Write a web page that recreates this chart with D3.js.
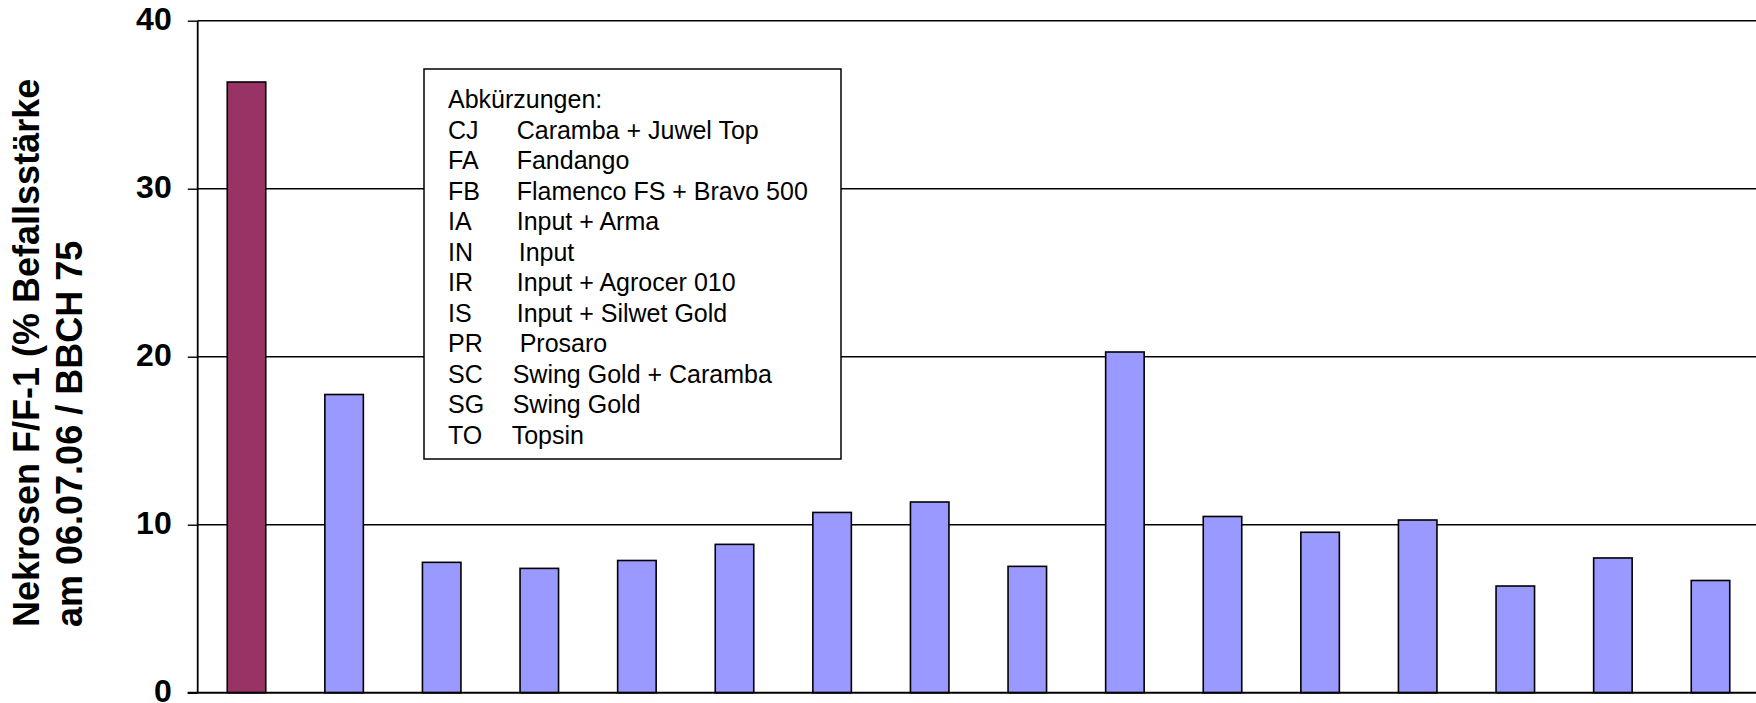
<!DOCTYPE html>
<html>
<head>
<meta charset="utf-8">
<script src="https://cdn.jsdelivr.net/npm/d3@7"></script>
<style>
  html, body { margin: 0; padding: 0; background: #fff; overflow: hidden; }
  svg { display: block; }
</style>
</head>
<body>
<svg id="chart" width="1756" height="703"></svg>
<script>
// ---- data ----
const categories = ["1","2","3","4","5","6","7","8","9","10","11","12","13","14","15","16"];
const values = [36.35, 17.75, 7.76, 7.40, 7.87, 8.83, 10.73, 11.35, 7.52, 20.28, 10.49, 9.55, 10.28, 6.35, 8.02, 6.68];
const barColors = ["#993366","#9999FF","#9999FF","#9999FF","#9999FF","#9999FF","#9999FF","#9999FF","#9999FF","#9999FF","#9999FF","#9999FF","#9999FF","#9999FF","#9999FF","#9999FF"];
const yTicks = [0, 10, 20, 30, 40];
const yTitleLines = ["Nekrosen F/F-1 (% Befallsstärke", "am 06.07.06 / BBCH 75"];
const legendTitle = "Abkürzungen:";
const legendAbbr = ["CJ","FA","FB","IA","IN","IR","IS","PR","SC","SG","TO"];
const legendDesc = ["Caramba + Juwel Top","Fandango","Flamenco FS + Bravo 500","Input + Arma","Input","Input + Agrocer 010","Input + Silwet Gold","Prosaro","Swing Gold + Caramba","Swing Gold","Topsin"];

// ---- layout ----
const svg = d3.select("#chart");
const plotLeft = 197.7, plotRight = 1759.3, plotTop = 20.7, plotBottom = 692.7;
const font = "Arial, 'Liberation Sans', sans-serif";

const y = d3.scaleLinear().domain([0, 40]).range([plotBottom, plotTop]);
const x = d3.scaleBand().domain(categories).range([plotLeft, plotRight])
  .paddingInner(0.6055).paddingOuter(0.30275);

// gridlines
svg.append("g").selectAll("line").data(yTicks.filter(t => t > 0)).join("line")
  .attr("x1", plotLeft).attr("x2", 1756)
  .attr("y1", d => y(d)).attr("y2", d => y(d))
  .attr("stroke", "#000").attr("stroke-width", 1.4);

// bars
svg.append("g").selectAll("rect").data(values).join("rect")
  .attr("x", (d, i) => x(categories[i]))
  .attr("width", x.bandwidth())
  .attr("y", d => y(d))
  .attr("height", d => y(0) - y(d))
  .attr("fill", (d, i) => barColors[i])
  .attr("stroke", "#000").attr("stroke-width", 1.6);

// y axis
const yAxis = d3.axisLeft(y).tickValues(yTicks).tickSize(10).tickPadding(16).tickFormat(d3.format("d"));
const gy = svg.append("g").attr("transform", `translate(${plotLeft},0)`).call(yAxis);
gy.select(".domain").attr("stroke", "#000").attr("stroke-width", 1.8)
  .attr("d", `M0,${plotBottom}V${plotTop}`);
gy.selectAll(".tick line").attr("stroke", "#000").attr("stroke-width", 1.4);
gy.selectAll(".tick text").attr("font-family", font).attr("font-weight", "bold")
  .attr("font-size", 32).attr("fill", "#000").attr("dy", "0.27em");

// x axis baseline
svg.append("line").attr("x1", plotLeft - 10).attr("x2", 1756)
  .attr("y1", y(0)).attr("y2", y(0)).attr("stroke", "#000").attr("stroke-width", 2);

// y axis title (two lines, rotated)
const titleG = svg.append("g").attr("transform", "translate(0,627) rotate(-90)");
titleG.selectAll("text").data(yTitleLines).join("text")
  .attr("x", 0)
  .attr("y", (d, i) => 39.3 + i * 42.4)
  .attr("font-family", font).attr("font-weight", "bold").attr("font-size", 36)
  .attr("fill", "#000").attr("text-anchor", "start")
  .text(d => d);

// legend box
const lg = svg.append("g");
lg.append("rect").attr("x", 424).attr("y", 69).attr("width", 417).attr("height", 390)
  .attr("fill", "#fff").attr("stroke", "#000").attr("stroke-width", 1.5);
lg.append("text").attr("x", 448).attr("y", 108)
  .attr("font-family", font).attr("font-size", 25).attr("fill", "#000").text(legendTitle);
const descNudge = {IN: 2, PR: 3, SC: -4, SG: -4, TO: -5};
const rows = lg.selectAll("g.row").data(legendAbbr).join("g").attr("class", "row")
  .attr("transform", (d, i) => `translate(0,${108 + (i + 1) * 30.5})`);
rows.append("text").attr("x", 448).attr("y", 0)
  .attr("font-family", font).attr("font-size", 25).attr("fill", "#000").text(d => d);
rows.append("text").attr("x", d => 516.7 + (descNudge[d] || 0)).attr("y", 0)
  .attr("font-family", font).attr("font-size", 25).attr("fill", "#000")
  .text((d, i) => legendDesc[i]);
</script>
</body>
</html>
